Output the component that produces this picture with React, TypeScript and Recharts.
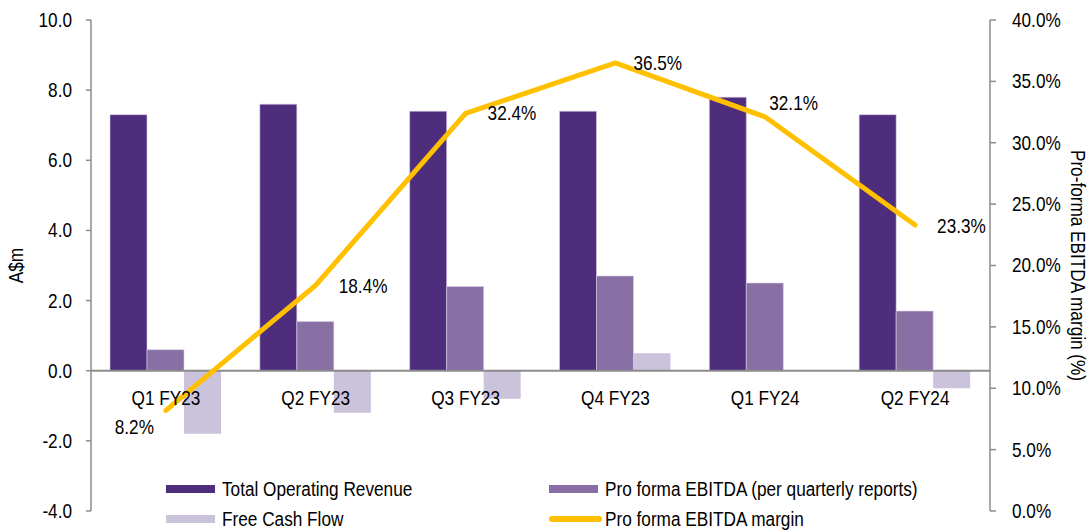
import { ComposedChart, Bar, Line, XAxis, YAxis, Legend, LabelList, ReferenceLine } from "recharts";

const quarters = ["Q1 FY23", "Q2 FY23", "Q3 FY23", "Q4 FY23", "Q1 FY24", "Q2 FY24"];
const revenue = [7.3, 7.6, 7.4, 7.4, 7.8, 7.3];
const ebitda = [0.6, 1.4, 2.4, 2.7, 2.5, 1.7];
const freeCashFlow = [-1.8, -1.2, -0.8, 0.5, 0, -0.5];
const margin = [8.2, 18.4, 32.4, 36.5, 32.1, 23.3];
const leftTicks = [-4, -2, 0, 2, 4, 6, 8, 10];
const rightTicks = [0, 5, 10, 15, 20, 25, 30, 35, 40];

const data = quarters.map((name, i) => ({
  name,
  revenue: revenue[i],
  ebitda: ebitda[i],
  fcf: freeCashFlow[i],
  margin: margin[i],
}));

const FONT = "'Liberation Sans', Arial, sans-serif";
const SQUEEZE = 0.86; // reference font is a narrow Arial
const AXIS = "#8c8c8c";
const REV = "#4E2D7C";
const EBITDA = "#8870A5";
const FCF = "#CBC2DB";
const MARGIN = "#FFC000";

const legendItems = [
  { name: "Total Operating Revenue", color: REV, kind: "rect" },
  { name: "Pro forma EBITDA (per quarterly reports)", color: EBITDA, kind: "rect" },
  { name: "Free Cash Flow", color: FCF, kind: "rect" },
  { name: "Pro forma EBITDA margin", color: MARGIN, kind: "line" },
];

// where each margin label sits relative to its point
const marginLabelPos = [
  { dx: -12, dy: 17, anchor: "end" },
  { dx: 23, dy: 1, anchor: "start" },
  { dx: 22, dy: 0, anchor: "start" },
  { dx: 18, dy: 0, anchor: "start" },
  { dx: 4, dy: -14, anchor: "start" },
  { dx: 22, dy: 1, anchor: "start" },
];

const NarrowText = ({ x, y, anchor = "middle", rotate = 0, children }: any) => (
  <g transform={`translate(${x},${y}) rotate(${rotate}) scale(${SQUEEZE},1)`}>
    <text x={0} y={0} textAnchor={anchor} dominantBaseline="central" fontSize={20} fontFamily={FONT} fill="#000">
      {children}
    </text>
  </g>
);

const MarginLabel = (props: any) => {
  const { x, y, value, index } = props;
  const p = marginLabelPos[index] || { dx: 20, dy: 0, anchor: "start" };
  return (
    <NarrowText x={x + p.dx} y={y + p.dy} anchor={p.anchor}>
      {value.toFixed(1)}%
    </NarrowText>
  );
};

const CategoryLabel = (props: any) => {
  const { x, y, value } = props;
  return (
    <NarrowText x={x} y={y + 27}>
      {value}
    </NarrowText>
  );
};

const renderLegend = () => (
  <div
    style={{
      display: "grid",
      gridTemplateColumns: "383px 420px",
      fontFamily: FONT,
      fontSize: 20,
      color: "#000",
    }}
  >
    {legendItems.map((item) => (
      <div key={item.name} style={{ display: "flex", alignItems: "center", height: 30 }}>
        {item.kind === "line" ? (
          <svg width={53} height={10} style={{ marginRight: 3, flexShrink: 0 }}>
            <line x1={3} y1={5} x2={50} y2={5} stroke={item.color} strokeWidth={6} strokeLinecap="round" />
          </svg>
        ) : (
          <div style={{ width: 49, height: 8, background: item.color, marginRight: 7, flexShrink: 0 }} />
        )}
        <span
          style={{
            whiteSpace: "nowrap",
            display: "inline-block",
            flexShrink: 0,
            transform: `scaleX(${SQUEEZE})`,
            transformOrigin: "left center",
          }}
        >
          {item.name}
        </span>
      </div>
    ))}
  </div>
);

const App = () => {
  return (
    <div style={{ position: "absolute", left: 0, top: 0, background: "#fff" }}>
      <ComposedChart
        width={1091}
        height={532}
        data={data}
        margin={{ top: 20, right: 0, bottom: 21, left: 0 }}
        barSize={37}
        barGap={0}
      >
        <XAxis dataKey="name" hide />
        <YAxis
          yAxisId="left"
          domain={[-4, 10]}
          ticks={leftTicks}
          width={91}
          axisLine={{ stroke: AXIS, strokeWidth: 1.5 }}
          tickLine={{ stroke: AXIS, strokeWidth: 1.5 }}
          tickSize={5}
          tickMargin={14}
          tick={(p: any) => (
            <NarrowText x={p.x} y={p.y} anchor="end">
              {Number(p.payload.value).toFixed(1)}
            </NarrowText>
          )}
          label={(p: any) => {
            const vb = p.viewBox;
            return (
              <NarrowText x={vb.x + 16} y={vb.y + vb.height / 2} rotate={-90}>
                A$m
              </NarrowText>
            );
          }}
        />
        <YAxis
          yAxisId="right"
          orientation="right"
          domain={[0, 40]}
          ticks={rightTicks}
          width={101}
          axisLine={{ stroke: AXIS, strokeWidth: 1.5 }}
          tickLine={{ stroke: AXIS, strokeWidth: 1.5 }}
          tickSize={6}
          tickMargin={16}
          tick={(p: any) => (
            <NarrowText x={p.x} y={p.y} anchor="start">
              {Number(p.payload.value).toFixed(1)}%
            </NarrowText>
          )}
          label={(p: any) => {
            const vb = p.viewBox;
            return (
              <NarrowText x={vb.x + 88} y={vb.y + vb.height / 2} rotate={90}>
                Pro-forma EBITDA margin (%)
              </NarrowText>
            );
          }}
        />
        <Bar yAxisId="left" dataKey="revenue" name="Total Operating Revenue" fill={REV} stroke="#d8cfe6" strokeWidth={0.6} isAnimationActive={false} />
        <Bar yAxisId="left" dataKey="ebitda" name="Pro forma EBITDA (per quarterly reports)" fill={EBITDA} stroke="#d8cfe6" strokeWidth={0.6} isAnimationActive={false} />
        <Bar yAxisId="left" dataKey="fcf" name="Free Cash Flow" fill={FCF} isAnimationActive={false} />
        <ReferenceLine yAxisId="left" y={0} stroke={AXIS} strokeWidth={2} />
        <Line
          yAxisId="left"
          dataKey={() => 0}
          stroke="none"
          dot={false}
          activeDot={false}
          legendType="none"
          isAnimationActive={false}
        >
          <LabelList dataKey="name" content={CategoryLabel} />
        </Line>
        <Line
          yAxisId="right"
          type="linear"
          dataKey="margin"
          name="Pro forma EBITDA margin"
          stroke={MARGIN}
          strokeWidth={5}
          strokeLinecap="round"
          dot={false}
          activeDot={false}
          isAnimationActive={false}
        >
          <LabelList dataKey="margin" content={MarginLabel} />
        </Line>
        <Legend
          layout="horizontal"
          verticalAlign="middle"
          align="center"
          content={renderLegend}
          wrapperStyle={{ left: 166, top: 474, width: 860, bottom: "auto" }}
        />
      </ComposedChart>
    </div>
  );
};

export default App;
